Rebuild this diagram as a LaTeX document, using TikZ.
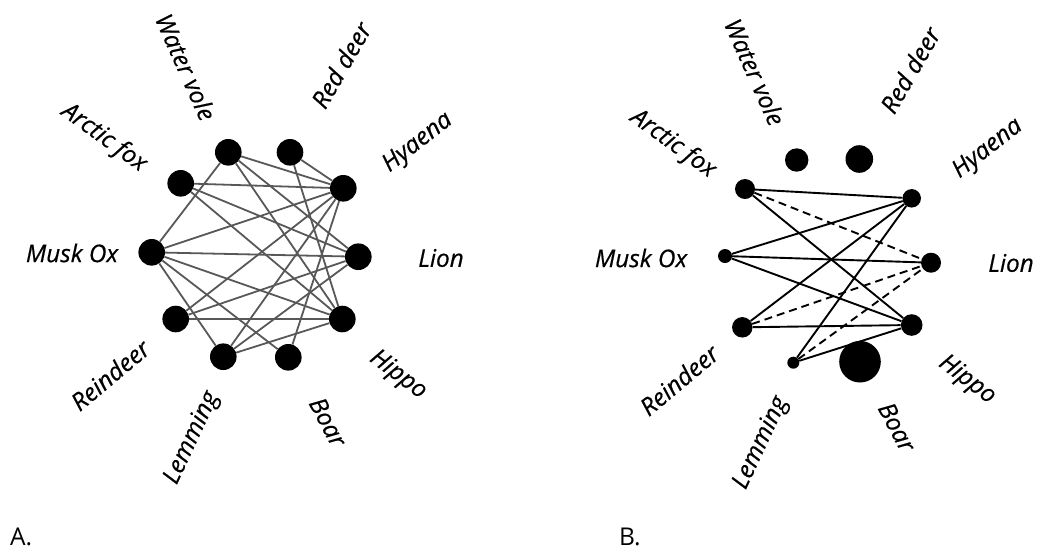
\documentclass[tikz,border=0pt]{standalone}
\usepackage{fontspec}
\setmainfont{Open Sans}[ItalicFeatures={FakeBold=0.5}]
\definecolor{edgegray}{RGB}{88,88,88}
\begin{document}
\begin{tikzpicture}[x=1pt,y=-1pt,
  dotA/.style={circle,fill=black,inner sep=0pt,minimum size=26.6pt},
  dotB/.style={circle,fill=black,inner sep=0pt,minimum size=#1},
  linkA/.style={edgegray,line width=1.8pt},
  linkB/.style={black,line width=1.9pt},
  negB/.style={black,line width=1.9pt,dash pattern=on 8pt off 5pt},
  species/.style={font=\fontsize{24.3}{24.3}\selectfont\itshape,inner sep=0pt},
  panel/.style={font=\fontsize{24.5}{24.5}\selectfont,inner sep=0pt,anchor=base west}]
\useasboundingbox (0,0) rectangle (1038,550);

% ---------------- panel A: full association network ----------------
\node[dotA] (aWV) at (228.3,152.3) {};
\node[dotA] (aRD) at (290.0,152.3) {};
\node[dotA] (aAF) at (180.7,183.3) {};
\node[dotA] (aHY) at (343.3,188.3) {};
\node[dotA] (aMO) at (151.7,252.3) {};
\node[dotA] (aLI) at (358.3,256.7) {};
\node[dotA] (aRE) at (175.7,319.0) {};
\node[dotA] (aHI) at (342.3,319.0) {};
\node[dotA] (aLE) at (223.3,356.7) {};
\node[dotA] (aBO) at (288.3,357.3) {};

\foreach \u/\v in {WV/HY,WV/LI,WV/HI,WV/MO,RD/HY,RD/HI,AF/HY,AF/LI,AF/HI,
                   MO/HY,MO/LI,MO/HI,MO/BO,MO/LE,RE/HY,RE/LI,RE/HI,
                   LE/HY,LE/LI,LE/HI,BO/HY}
  \draw[linkA] (a\u) -- (a\v);

\node[species,rotate=-66] (lWV) at (186,67)  {Water vole};
\node[species,rotate=60]  (lRD) at (341,65)  {Red deer};
\node[species,rotate=-36] (lAF) at (104,138) {Arctic fox};
\node[species,rotate=38]  (lHY) at (418,143) {Hyaena};
\node[species]            (lMO) at (72,253)  {Musk Ox};
\node[species]            (lLI) at (441,258) {Lion};
\node[species,rotate=40]  (lRE) at (110,375) {Reindeer};
\node[species,rotate=-37] (lHI) at (398,375) {Hippo};
\node[species,rotate=65]  (lLE) at (192,438) {Lemming};
\node[species,rotate=-62] (lBO) at (328,422) {Boar};

\node[panel] (pA) at (10,545) {A.};

% ---------------- panel B: significant associations ----------------
\node[dotB=23.4pt] (bWV) at (796.7,160.0) {};
\node[dotB=27.6pt] (bRD) at (859.3,159.0) {};
\node[dotB=20pt]   (bAF) at (745.0,189.0) {};
\node[dotB=18.5pt] (bHY) at (911.7,198.3) {};
\node[dotB=14pt]   (bMO) at (725.0,256.0) {};
\node[dotB=20pt]   (bLI) at (931.0,262.7) {};
\node[dotB=20.5pt] (bRE) at (742.3,327.3) {};
\node[dotB=21.6pt] (bHI) at (911.7,325.0) {};
\node[dotB=12pt]   (bLE) at (793.3,362.7) {};
\node[dotB=41.6pt] (bBO) at (860.0,361.7) {};

\foreach \u/\v in {AF/HY,AF/HI,MO/HY,MO/LI,MO/HI,RE/HY,RE/HI,LE/HY,LE/HI}
  \draw[linkB] (b\u) -- (b\v);
\foreach \u/\v in {AF/LI,RE/LI,LE/LI}
  \draw[negB] (b\u) -- (b\v);

\node[species,rotate=-66] (mWV) at (755,72)  {Water vole};
\node[species,rotate=60]  (mRD) at (910,70)  {Red deer};
\node[species,rotate=-36] (mAF) at (673,144) {Arctic fox};
\node[species,rotate=38]  (mHY) at (988,149) {Hyaena};
\node[species]            (mMO) at (641,258) {Musk Ox};
\node[species]            (mLI) at (1011,263) {Lion};
\node[species,rotate=40]  (mRE) at (679,380) {Reindeer};
\node[species,rotate=-37] (mHI) at (967,380) {Hippo};
\node[species,rotate=65]  (mLE) at (761,443) {Lemming};
\node[species,rotate=-62] (mBO) at (897,427) {Boar};

\node[panel] (pB) at (619,545) {B.};
\end{tikzpicture}
\end{document}
